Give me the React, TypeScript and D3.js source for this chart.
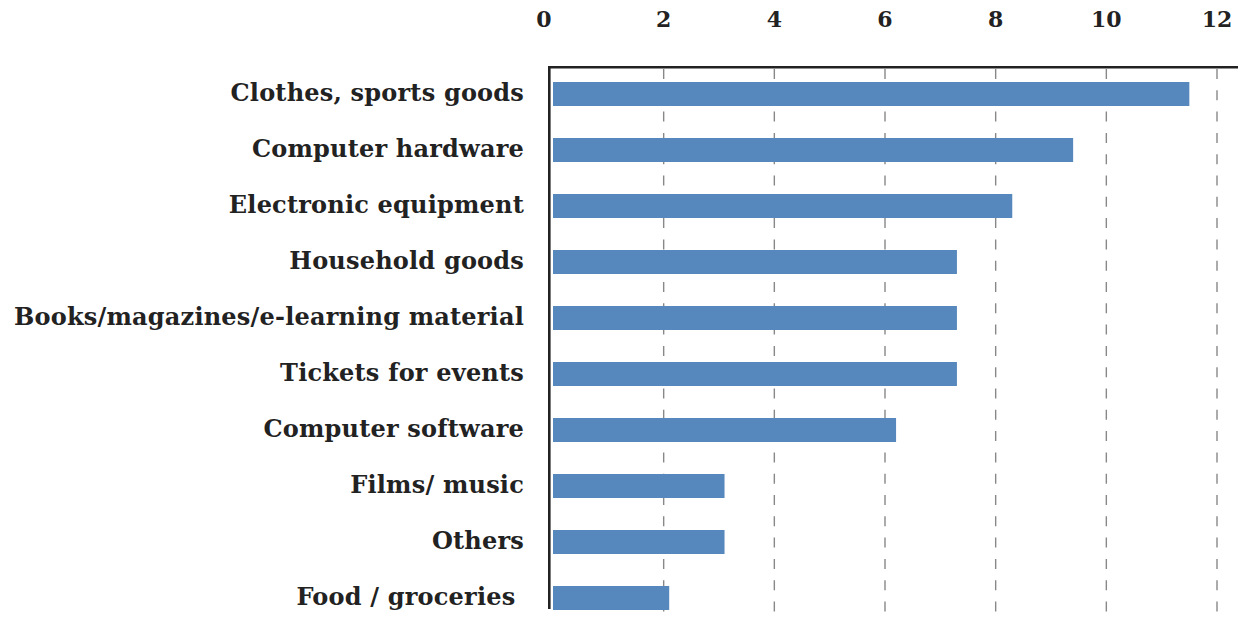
import React from "react";
import * as d3 from "d3";

const categories = [
  "Clothes, sports goods",
  "Computer hardware",
  "Electronic equipment",
  "Household goods",
  "Books/magazines/e-learning material",
  "Tickets for events",
  "Computer software",
  "Films/ music",
  "Others",
  "Food / groceries ",
];
const values = [11.5, 9.4, 8.3, 7.3, 7.3, 7.3, 6.2, 3.1, 3.1, 2.1];
const tickValues = [0, 2, 4, 6, 8, 10, 12];

const W = 1238;
const H = 622;
const FONT = "'DejaVu Serif', serif";

export default function App() {
  const x = d3.scaleLinear().domain([0, 12]).range([553, 1217]);
  const y = d3
    .scaleBand<string>()
    .domain(categories)
    .range([66, 626])
    .paddingInner(0.5714)
    .paddingOuter(0.2857);
  const bw = y.bandwidth();

  return (
    <svg
      width={W}
      height={H}
      style={{ position: "absolute", left: 0, top: 0, background: "#fff" }}
    >
      {tickValues.slice(1).map((t) => (
        <line
          key={"g" + t}
          x1={x(t)}
          x2={x(t)}
          y1={69}
          y2={H}
          stroke="#888"
          strokeWidth={1.4}
          strokeDasharray="10,11.3"
        />
      ))}
      {tickValues.map((t) => (
        <text
          key={"t" + t}
          x={x(t) - (t === 0 ? 9 : 0)}
          y={27}
          textAnchor="middle"
          fontFamily={FONT}
          fontWeight="bold"
          fontSize={22}
          fill="#222"
        >
          {t}
        </text>
      ))}
      {categories.map((c, i) => (
        <rect
          key={"b" + c}
          x={x(0)}
          y={y(c)!}
          width={x(values[i]) - x(0)}
          height={bw}
          fill="#5687bd"
        />
      ))}
      {categories.map((c) => (
        <text
          key={"l" + c}
          x={524}
          y={y(c)! + bw / 2}
          dy="0.3em"
          textAnchor="end"
          fontFamily={FONT}
          fontWeight="bold"
          fontSize={24}
          letterSpacing={0.2}
          fill="#222"
          xmlSpace="preserve"
          style={{ whiteSpace: "pre" }}
        >
          {c}
        </text>
      ))}
      <line x1={548} x2={W} y1={67.3} y2={67.3} stroke="#222" strokeWidth={2.6} />
      <line x1={549.3} x2={549.3} y1={66} y2={609} stroke="#222" strokeWidth={2.6} />
    </svg>
  );
}
